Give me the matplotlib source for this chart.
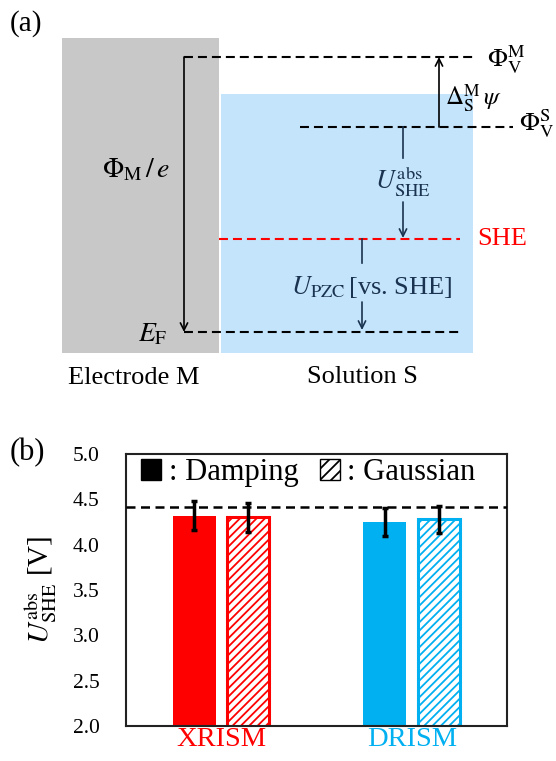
import matplotlib
matplotlib.use('agg')
import matplotlib.pyplot as plt
from matplotlib.patches import Rectangle, Patch

plt.rcParams['font.family'] = ['Liberation Serif', 'DejaVu Serif']
plt.rcParams['mathtext.fontset'] = 'stix'
plt.rcParams['hatch.linewidth'] = 1.3

# datos del panel (b)
metodos = ['XRISM', 'DRISM']
colores = ['#ff0000', '#00b0f0']
damping = [4.32, 4.25]
damping_err = [0.16, 0.155]
gaussian = [4.30, 4.28]
gaussian_err = [0.165, 0.15]
she_ref = 4.42

W, H = 556, 761
fig = plt.figure(figsize=(W / 100, H / 100), dpi=100)

# ---------- panel (a): esquema de niveles (coordenadas en pixeles) ----------
ax0 = fig.add_axes([0, 0, 1, 1])
ax0.set_xlim(0, W)
ax0.set_ylim(H, 0)
ax0.axis('off')

navy = '#1a3350'
ax0.add_patch(Rectangle((62, 38), 157, 315, color='#c8c8c8', lw=0))
ax0.add_patch(Rectangle((221, 94), 252, 259, color='#c4e4fb', lw=0))

dash = dict(lw=1.5, dashes=(4.3, 2.4))
ax0.plot([184, 473], [57, 57], color='k', **dash)    # Phi_V^M
ax0.plot([300, 513], [127, 127], color='k', **dash)  # Phi_V^S
ax0.plot([219, 460], [239, 239], color='#ff0000', **dash)  # SHE
ax0.plot([184, 460], [332, 332], color='k', **dash)  # E_F

def flecha(x, y0, y1, color='k'):
    ax0.annotate('', xy=(x, y1), xytext=(x, y0),
                 arrowprops=dict(arrowstyle='->', lw=1.2, color=color,
                                 shrinkA=0, shrinkB=0, mutation_scale=13))

flecha(184, 57, 332)
flecha(439, 127, 57)
ax0.plot([403, 403], [127, 158], color=navy, lw=1.2)
flecha(403, 202, 238, navy)
ax0.plot([362, 362], [239, 263], color=navy, lw=1.2)
flecha(362, 302, 330, navy)

fs = 19
ax0.text(10, 24, '(a)', fontsize=21, ha='left', va='center')
ax0.text(136, 170, r'$\Phi_{\mathrm{M}}\,/\,e$', fontsize=fs + 1, ha='center', va='center')
ax0.text(168, 335, r'$E_{\mathrm{F}}$', fontsize=fs + 1, ha='right', va='center')
ax0.text(487, 60, r'$\Phi_{\mathrm{V}}^{\mathrm{M}}$', fontsize=fs, ha='left', va='center')
ax0.text(445, 98, r'$\Delta_{\mathrm{S}}^{\mathrm{M}}\,\psi$', fontsize=fs - 1, ha='left', va='center')
ax0.text(519, 124, r'$\Phi_{\mathrm{V}}^{\mathrm{S}}$', fontsize=fs, ha='left', va='center')
ax0.text(477, 239, 'SHE', fontsize=fs, color='#ff0000', ha='left', va='center')
ax0.text(403, 182, r'$U_{\mathrm{SHE}}^{\mathrm{abs}}$', fontsize=fs, color=navy,
         ha='center', va='center')
ax0.text(372, 287, r'$U_{\mathrm{PZC}}\,$[vs. SHE]', fontsize=fs, color=navy,
         ha='center', va='center')
ax0.text(134, 378, 'Electrode M', fontsize=fs, ha='center', va='center')
ax0.text(362, 377, 'Solution S', fontsize=fs, ha='center', va='center')
ax0.text(10, 453, '(b)', fontsize=22, ha='left', va='center')

# ---------- panel (b): barras ----------
ax = fig.add_axes([126 / W, (H - 726) / H, 381 / W, 272 / H])
x = list(range(len(metodos)))
off = 0.142
err_kw = dict(ecolor='k', elinewidth=2.5, capsize=2.2, capthick=2.5)
ax.bar([i - off for i in x], damping, width=0.225, color=colores,
       yerr=damping_err, error_kw=err_kw, zorder=2)
ax.bar([i + off for i in x], gaussian, width=0.22, color='white',
       edgecolor=colores, linewidth=2.2, hatch='////',
       yerr=gaussian_err, error_kw=err_kw, zorder=2)
ax.axhline(she_ref, color='k', lw=1.8, dashes=(3.6, 2.2), zorder=3)

ax.set_xlim(-0.5, 1.5)
ax.set_ylim(2.0, 5.0)
ax.set_yticks([2.0, 2.5, 3.0, 3.5, 4.0, 4.5, 5.0])
ax.set_yticklabels([f'{v:.1f}' for v in ax.get_yticks()])
ax.tick_params(axis='y', length=0, pad=19, labelsize=15.5)
ax.set_xticks(x)
ax.set_xticklabels(metodos)
ax.tick_params(axis='x', length=0, pad=1, labelsize=20.5)
for lbl, c in zip(ax.get_xticklabels(), colores):
    lbl.set_color(c)
for s in ax.spines.values():
    s.set_linewidth(1.5)
    s.set_color('#222222')

ax.set_ylabel(r'$U_{\mathrm{SHE}}^{\mathrm{abs}}$ [V]', fontsize=21)
ax.yaxis.set_label_coords(-0.175, 0.5)

handles = [Patch(facecolor='black', edgecolor='black'),
           Patch(facecolor='white', edgecolor='black', hatch='///')]
ax.legend(handles, [': Damping', ': Gaussian'], ncol=2, frameon=False,
          loc='upper left', bbox_to_anchor=(0.04, 0.985), fontsize=22,
          handlelength=0.65, handleheight=0.7, handletextpad=0.25,
          columnspacing=0.7, borderpad=0, borderaxespad=0)

plt.savefig('out.png', dpi=100)
